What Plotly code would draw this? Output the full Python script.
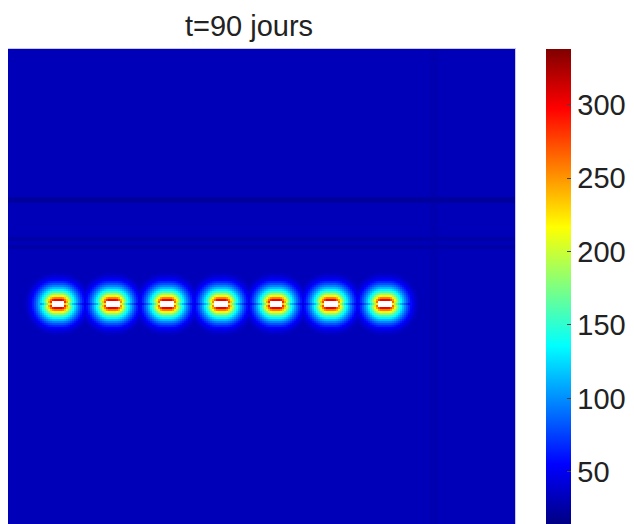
import numpy as np
import plotly.graph_objects as go

# ---- data (units ~ plot pixels, origin top-left of the map) ----
well_x = [50, 104.5, 159, 213.5, 268, 322.5, 377]   # centres of the 7 hot spots
well_y = 255
core_half_w = 6.5          # white (no data) core of each hot spot
core_half_h = 3.0
inner_half_w = 3.0         # small inner rectangle the rings are measured from
inner_half_h = 0.5
background = 32.0

# value versus distance from the inner rectangle
prof_dist = [0, 2, 3.5, 5, 7, 9.5, 12, 15, 18, 21, 24, 28, 31]
prof_val = [345, 332, 302, 268, 228, 184, 148, 118, 92, 70, 52, 38, 32]

# slightly darker horizontal streaks
streak_y = [151, 190, 198]
streak_w = [5, 2, 2]
streak_val = [23.5, 26, 26]

# slightly darker vertical band on the right
band_x = [422, 430]
band_val = 29

# thin darker line through the hot spots
line_y = 255
line_x = [32, 402]
line_factor = 0.8

cmin, cmax = 14.4, 338.0
tick_vals = [50, 100, 150, 200, 250, 300]
title_text = "t=90 jours"

# ---- build the field ----
cell = 2
xs = np.arange(1, 508, cell, dtype=float)
ys = np.arange(1, 517, cell, dtype=float)
X, Y = np.meshgrid(xs, ys)
z = np.full(X.shape, background)

for yy, ww, vv in zip(streak_y, streak_w, streak_val):
    z[np.abs(Y - yy) <= ww / 2] = vv
bm = (X >= band_x[0]) & (X <= band_x[1])
z[bm] = np.minimum(z[bm], band_val)

core = np.zeros(X.shape, dtype=bool)
for cx in well_x:
    dx = np.maximum(np.abs(X - cx) - inner_half_w, 0)
    dy = np.maximum(np.abs(Y - well_y) - inner_half_h, 0)
    d = np.hypot(dx, dy)
    v = np.interp(d, prof_dist, prof_val)
    z = np.where(v > background, np.maximum(z, v), z)
    core |= (np.abs(X - cx) <= core_half_w) & (np.abs(Y - well_y) <= core_half_h)

lm = (np.abs(Y - line_y) <= 1) & (X >= line_x[0]) & (X <= line_x[1])
z[lm] = z[lm] * line_factor
z = np.round(z, 1)
z[core] = np.nan

jet = [
    [0.0, "rgb(0,0,131)"],
    [0.125, "rgb(0,0,255)"],
    [0.375, "rgb(0,255,255)"],
    [0.625, "rgb(255,255,0)"],
    [0.875, "rgb(255,0,0)"],
    [1.0, "rgb(128,0,0)"],
]

# the page body has an 8px margin: figure is placed at (8, 8) on the page
W, H = 626, 516
PLOT_W = 507

fig = go.Figure(
    go.Heatmap(
        z=z,
        x=xs,
        y=ys,
        colorscale=jet,
        zmin=cmin,
        zmax=cmax,
        zsmooth=False,
        hoverinfo="skip",
        colorbar=dict(
            x=538 / PLOT_W,
            xanchor="left",
            xpad=0,
            y=0.5,
            yanchor="middle",
            ypad=0,
            len=1,
            lenmode="fraction",
            thickness=25,
            thicknessmode="pixels",
            outlinewidth=0,
            tickvals=tick_vals,
            ticks="inside",
            ticklen=4,
            tickcolor="#444",
            tickfont=dict(family="Liberation Sans, Arial, sans-serif", size=29, color="#222"),
        ),
    )
)

fig.update_layout(
    width=W,
    height=H,
    margin=dict(l=0, r=W - PLOT_W, t=41, b=0, autoexpand=False),
    paper_bgcolor="white",
    plot_bgcolor="white",
    title=dict(
        text=title_text,
        x=241 / W,
        xref="container",
        xanchor="center",
        y=1 - 18 / H,
        yref="container",
        yanchor="middle",
        font=dict(family="Liberation Sans, Arial, sans-serif", size=29, color="#222"),
    ),
    xaxis=dict(range=[0, 507], showticklabels=False, ticks="", showgrid=False,
               zeroline=False, showline=True, mirror=True, linecolor="#c8c8ee", linewidth=1),
    yaxis=dict(range=[475, 0], showticklabels=False, ticks="", showgrid=False,
               zeroline=False, showline=True, mirror=True, linecolor="#c8c8ee", linewidth=1),
)

fig.write_html("out.html")
